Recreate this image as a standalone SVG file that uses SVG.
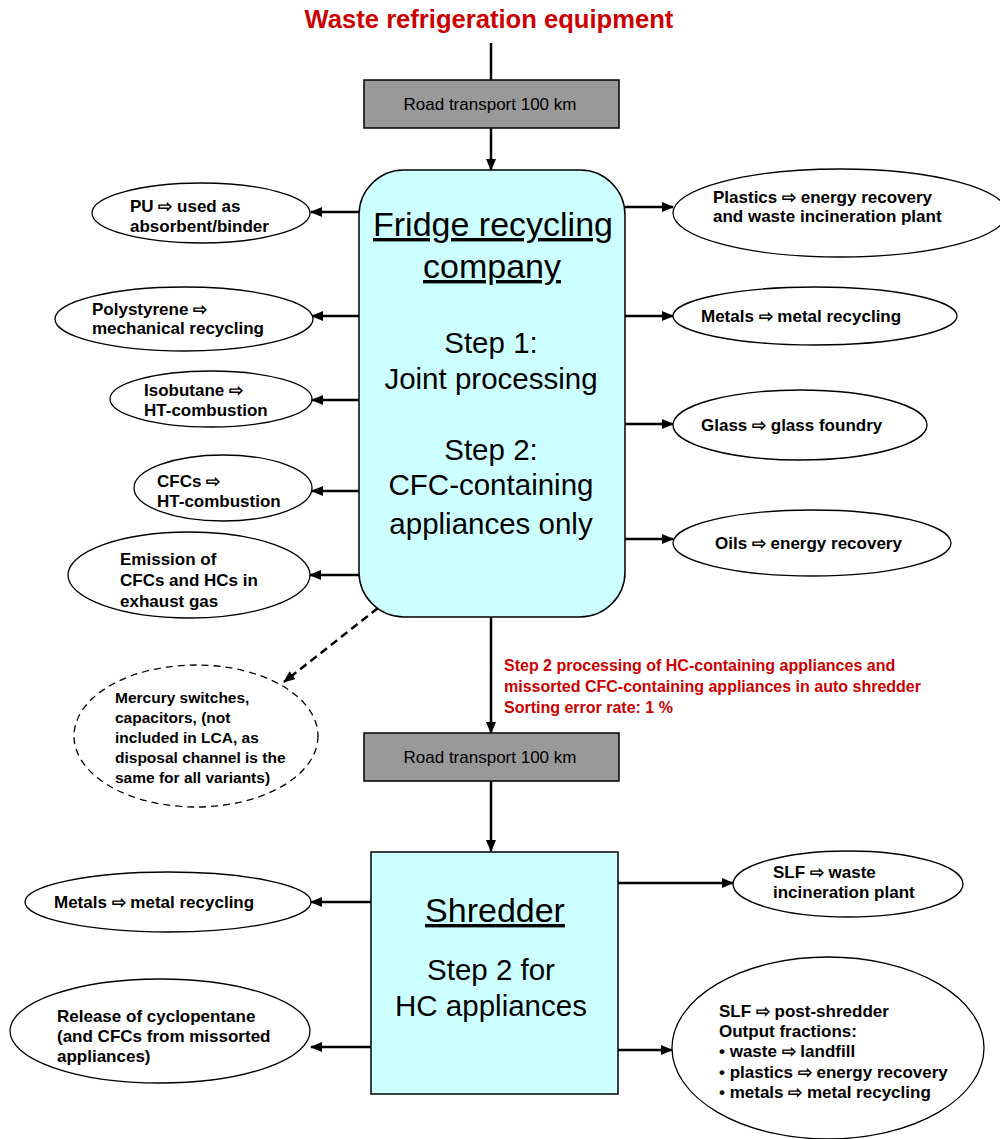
<svg xmlns="http://www.w3.org/2000/svg" width="1000" height="1139" viewBox="0 0 1000 1139">
<defs>
<marker id="ah" markerWidth="12" markerHeight="10" refX="11" refY="5" orient="auto" markerUnits="userSpaceOnUse">
<path d="M0,0 L12,5 L0,10 Z" fill="#000"/>
</marker>
<style>
.t{font-family:"Liberation Sans",Arial,sans-serif;fill:#000}
.b{font-family:"Liberation Sans",Arial,sans-serif;font-weight:bold;font-size:17px;fill:#000}
.m{font-family:"Liberation Sans",Arial,sans-serif;font-weight:bold;font-size:15.5px;fill:#000}
.red{font-family:"Liberation Sans",Arial,sans-serif;font-weight:bold;font-size:16px;fill:#CC0000}
.el{fill:#fff;stroke:#000;stroke-width:1.3}
.gray{fill:#999;stroke:#000;stroke-width:1.5}
.cyan{fill:#CCFFFF;stroke:#000;stroke-width:1.5}
.c{stroke:#000;stroke-width:2.5;fill:none}
.big{font-family:"Liberation Sans",Arial,sans-serif;font-size:29.5px;fill:#000;text-anchor:middle}
.u{text-decoration:underline;font-size:34px}
</style>
</defs>
<rect width="1000" height="1139" fill="#fff"/>

<g id="title"><text x="489" y="28" text-anchor="middle" font-family="Liberation Sans,Arial,sans-serif" font-weight="bold" font-size="25.6" fill="#CC0000">Waste refrigeration equipment</text></g>

<g id="connectors">
<line class="c" x1="491" y1="43" x2="491" y2="80"/>
<line class="c" x1="491" y1="128" x2="491" y2="170" marker-end="url(#ah)"/>
<line class="c" x1="359" y1="212" x2="311" y2="212" marker-end="url(#ah)"/>
<line class="c" x1="359" y1="316" x2="312" y2="316" marker-end="url(#ah)"/>
<line class="c" x1="359" y1="400" x2="312" y2="400" marker-end="url(#ah)"/>
<line class="c" x1="359" y1="491" x2="312" y2="491" marker-end="url(#ah)"/>
<line class="c" x1="359" y1="575" x2="310" y2="575" marker-end="url(#ah)"/>
<line class="c" x1="625" y1="207" x2="673" y2="207" marker-end="url(#ah)"/>
<line class="c" x1="625" y1="316" x2="673" y2="316" marker-end="url(#ah)"/>
<line class="c" x1="625" y1="424" x2="673" y2="424" marker-end="url(#ah)"/>
<line class="c" x1="625" y1="539" x2="673" y2="539" marker-end="url(#ah)"/>
<line class="c" x1="378" y1="608" x2="284" y2="682" stroke-dasharray="8,5" marker-end="url(#ah)"/>
<line class="c" x1="491" y1="617" x2="491" y2="733" marker-end="url(#ah)"/>
<line class="c" x1="491" y1="781" x2="491" y2="851" marker-end="url(#ah)"/>
<line class="c" x1="371" y1="902" x2="311" y2="902" marker-end="url(#ah)"/>
<line class="c" x1="371" y1="1047" x2="311" y2="1047" marker-end="url(#ah)"/>
<line class="c" x1="618" y1="883" x2="733" y2="883" marker-end="url(#ah)"/>
<line class="c" x1="618" y1="1050" x2="672" y2="1050" marker-end="url(#ah)"/>
</g>

<g id="transport1">
<rect class="gray" x="364" y="80" width="255" height="48"/>
<text class="t" x="490" y="110" font-size="17" text-anchor="middle">Road transport 100 km</text>
</g>

<g id="fridge">
<rect class="cyan" x="359" y="170" width="266" height="447" rx="45" ry="45"/>
<text class="big u" x="493" y="236">Fridge recycling</text>
<text class="big u" x="492" y="278">company</text>
<text class="big" x="491" y="353">Step 1:</text>
<text class="big" x="491" y="389">Joint processing</text>
<text class="big" x="491" y="460">Step 2:</text>
<text class="big" x="491" y="495">CFC-containing</text>
<text class="big" x="491" y="534">appliances only</text>
</g>

<g id="pu">
<ellipse class="el" cx="201" cy="213" rx="109" ry="30"/>
<text class="b" x="130" y="212">PU ⇨ used as</text>
<text class="b" x="130" y="232">absorbent/binder</text>
</g>
<g id="polystyrene">
<ellipse class="el" cx="184" cy="319" rx="129" ry="32"/>
<text class="b" x="92" y="315">Polystyrene ⇨</text>
<text class="b" x="92" y="334">mechanical recycling</text>
</g>
<g id="isobutane">
<ellipse class="el" cx="211" cy="399" rx="101" ry="28"/>
<text class="b" x="144" y="396">Isobutane ⇨</text>
<text class="b" x="144" y="416">HT-combustion</text>
</g>
<g id="cfcs">
<ellipse class="el" cx="223" cy="488" rx="89" ry="33"/>
<text class="b" x="157" y="487">CFCs ⇨</text>
<text class="b" x="157" y="507">HT-combustion</text>
</g>
<g id="emission">
<ellipse class="el" cx="189" cy="575" rx="121" ry="43"/>
<text class="b" x="120" y="565">Emission of</text>
<text class="b" x="120" y="586">CFCs and HCs in</text>
<text class="b" x="120" y="607">exhaust gas</text>
</g>

<g id="plastics">
<ellipse class="el" cx="840" cy="213" rx="167" ry="44"/>
<text class="b" x="713" y="203">Plastics ⇨ energy recovery</text>
<text class="b" x="713" y="222">and waste incineration plant</text>
</g>
<g id="metals1">
<ellipse class="el" cx="815" cy="316" rx="142" ry="29"/>
<text class="b" x="701" y="322">Metals ⇨ metal recycling</text>
</g>
<g id="glass">
<ellipse class="el" cx="800" cy="425" rx="127" ry="35"/>
<text class="b" x="701" y="431">Glass ⇨ glass foundry</text>
</g>
<g id="oils">
<ellipse class="el" cx="812" cy="543" rx="139" ry="33"/>
<text class="b" x="715" y="549">Oils ⇨ energy recovery</text>
</g>

<g id="mercury">
<ellipse class="el" cx="196" cy="736" rx="122" ry="71" stroke-dasharray="7,5" stroke-width="2.2"/>
<text class="m" x="115" y="703">Mercury switches,</text>
<text class="m" x="115" y="723">capacitors, (not</text>
<text class="m" x="115" y="743">included in LCA, as</text>
<text class="m" x="115" y="763">disposal channel is the</text>
<text class="m" x="115" y="783">same for all variants)</text>
</g>

<g id="note">
<text class="red" x="504" y="671">Step 2 processing of HC-containing appliances and</text>
<text class="red" x="504" y="692">missorted CFC-containing appliances in auto shredder</text>
<text class="red" x="504" y="713">Sorting error rate: 1 %</text>
</g>

<g id="transport2">
<rect class="gray" x="364" y="733" width="255" height="48"/>
<text class="t" x="490" y="763" font-size="17" text-anchor="middle">Road transport 100 km</text>
</g>

<g id="shredder">
<rect class="cyan" x="371" y="852" width="247" height="242"/>
<text class="big u" x="495" y="922">Shredder</text>
<text class="big" x="491" y="980">Step 2 for</text>
<text class="big" x="491" y="1016">HC appliances</text>
</g>

<g id="metals2">
<ellipse class="el" cx="168" cy="902" rx="143" ry="30"/>
<text class="b" x="54" y="908">Metals ⇨ metal recycling</text>
</g>
<g id="release">
<ellipse class="el" cx="160" cy="1031" rx="150" ry="52"/>
<text class="b" x="57" y="1022">Release of cyclopentane</text>
<text class="b" x="57" y="1042">(and CFCs from missorted</text>
<text class="b" x="57" y="1062">appliances)</text>
</g>
<g id="slf1">
<ellipse class="el" cx="848" cy="884" rx="115" ry="33"/>
<text class="b" x="773" y="878">SLF ⇨ waste</text>
<text class="b" x="773" y="898">incineration plant</text>
</g>
<g id="slf2">
<ellipse class="el" cx="828" cy="1048" rx="156" ry="91"/>
<text class="b" x="719" y="1017">SLF ⇨ post-shredder</text>
<text class="b" x="719" y="1037">Output fractions:</text>
<text class="b" x="719" y="1057">• waste ⇨ landfill</text>
<text class="b" x="719" y="1078">• plastics ⇨ energy recovery</text>
<text class="b" x="719" y="1098">• metals ⇨ metal recycling</text>
</g>
</svg>
